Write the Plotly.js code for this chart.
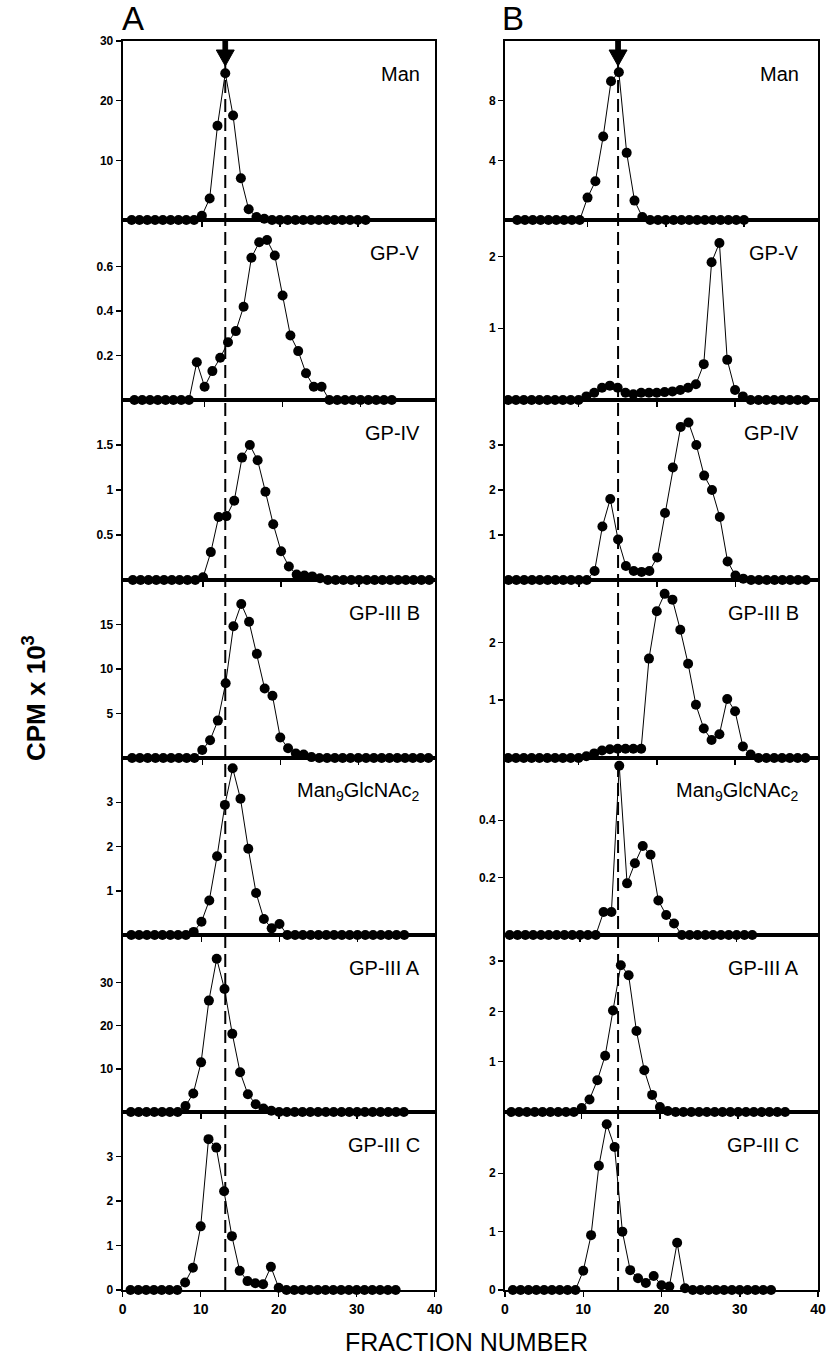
<!DOCTYPE html>
<html><head><meta charset="utf-8">
<script src="https://cdn.plot.ly/plotly-3.0.1.min.js"></script>
<style>html,body{margin:0;padding:0;background:#fff}#chart{width:830px;height:1361px}</style>
</head><body><div id="chart"></div>
<script>
// ---------------- DATA ----------------
const panelLabels = ['Man', 'GP-V', 'GP-IV', 'GP-III B', 'Man<sub>9</sub>GlcNAc<sub>2</sub>', 'GP-III A', 'GP-III C'];
const xTickLabels = [0, 10, 20, 30, 40];

// first fraction number of every series
const startA = [1, 1, 1, 1, 1, 1, 1];
const startB = [1, 1, 1, 1, 1, 1, 1];

// Column A (CPM x 10^3)
const A_Man    = [0,0,0,0,0,0,0,0,0, 0.7,3.6,15.8,24.6,17.5,7.0,1.8,0.5,0.2, 0,0,0,0,0,0,0,0,0,0,0,0,0];
const A_GPV    = [0,0,0,0,0,0,0,0, 0.17,0.06,0.13,0.19,0.26,0.31,0.42,0.64,0.71,0.72,0.65,0.47,0.29,0.22,0.12,0.06,0.06, 0,0,0,0,0,0,0,0,0];
const A_GPIV   = [0,0,0,0,0,0,0,0,0, 0.03,0.31,0.70,0.71,0.88,1.36,1.50,1.33,0.98,0.62,0.32,0.15,0.06,0.05,0.04,0.02, 0,0,0,0,0,0,0,0,0,0,0,0,0,0];
const A_GPIIIB = [0,0,0,0,0,0,0,0,0, 0.9,2.0,4.2,8.4,14.8,17.3,15.3,11.7,7.8,7.0,2.3,1.1,0.5,0.4,0.1, 0,0,0,0,0,0,0,0,0,0,0,0,0,0,0];
const A_Man9   = [0,0,0,0,0,0,0,0, 0.07,0.30,0.78,1.78,2.94,3.77,3.08,1.95,0.95,0.36,0.15,0.25, 0,0,0,0,0,0,0,0,0,0,0,0,0,0,0,0];
const A_GPIIIA = [0,0,0,0,0,0,0, 1.4,4.3,11.5,25.8,35.5,28.5,18.1,9.2,4.1,1.8,0.8,0.3, 0,0,0,0,0,0,0,0,0,0,0,0,0,0,0,0,0];
const A_GPIIIC = [0,0,0,0,0,0,0, 0.17,0.50,1.43,3.39,3.20,2.22,1.21,0.43,0.20,0.15,0.13,0.52,0.05, 0,0,0,0,0,0,0,0,0,0,0,0,0,0,0];

// Column B (CPM x 10^3)
const B_Man    = [0,0,0,0,0,0,0,0,0, 1.5,2.6,5.6,9.3,9.9,4.5,1.3,0.2, 0,0,0,0,0,0,0,0,0,0,0,0,0];
const B_GPV    = [0,0,0,0,0,0,0,0,0,0, 0.05,0.1,0.17,0.2,0.17,0.1,0.08,0.1,0.1,0.1,0.11,0.12,0.14,0.17,0.22,0.5,1.92,2.19,0.56,0.14,0.05, 0,0,0,0,0,0,0,0];
const B_GPIV   = [0,0,0,0,0,0,0,0,0,0,0, 0.2,1.19,1.8,0.9,0.31,0.2,0.18,0.2,0.5,1.49,2.5,3.4,3.5,3.0,2.32,2.0,1.4,0.41,0.1,0.03, 0,0,0,0,0,0,0,0];
const B_GPIIIB = [0,0,0,0,0,0,0,0,0,0, 0.03,0.08,0.13,0.15,0.16,0.16,0.16,0.16,1.72,2.54,2.84,2.74,2.22,1.63,0.92,0.51,0.31,0.41,1.02,0.81,0.2,0.06, 0,0,0,0,0,0,0];
const B_Man9   = [0,0,0,0,0,0,0,0,0,0,0,0, 0.08,0.08,0.59,0.18,0.25,0.31,0.28,0.12,0.07,0.04, 0,0,0,0,0,0,0,0,0,0];
const B_GPIIIA = [0,0,0,0,0,0,0,0,0, 0.08,0.25,0.63,1.12,2.02,2.92,2.72,1.61,0.83,0.34,0.1,0.02, 0,0,0,0,0,0,0,0,0,0,0,0,0,0,0];
const B_GPIIIC = [0,0,0,0,0,0,0,0,0, 0.33,0.94,2.13,2.84,2.45,1.0,0.34,0.2,0.12,0.24,0.08,0.06,0.81,0.03, 0,0,0,0,0,0,0,0,0,0,0];

// y-axis tick values
const yTicksA = [[10,20,30],[0.2,0.4,0.6],[0.5,1,1.5],[5,10,15],[1,2,3],[10,20,30],[0,1,2,3]];
const yTicksB = [[4,8],[1,2],[1,2,3],[1,2],[0.2,0.4],[1,2,3],[0,1,2]];

// marker fraction (arrow + dashed line)
const markerFractionA = 13.15;
const markerFractionB = 14.45;

// ---------------- LAYOUT / STYLE ----------------
const W = 830, H = 1361;
const seriesA = [A_Man, A_GPV, A_GPIV, A_GPIIIB, A_Man9, A_GPIIIA, A_GPIIIC];
const seriesB = [B_Man, B_GPV, B_GPIV, B_GPIIIB, B_Man9, B_GPIIIA, B_GPIIIC];
const yTopA = [30, 0.81, 2.0, 20, 4.0, 41, 4.0];
const yTopB = [12, 2.51, 4.0, 3.08, 0.617, 3.52, 3.05];
// horizontal placement shift of each pasted panel (fraction units)
const shiftA = [0.15, 0.5, 0.3, 0.2, 0.1, 0.05, 0];
const shiftB = [0.55, -0.6, -0.55, -0.6, -0.4, -0.2, 0];
const bounds = [41, 220, 400, 580, 758, 935, 1112, 1290];
const colPx = [[122.7, 434.7], [505, 818]];

const py = p => 1 - p / H;
const pxp = p => p / W;

const traces = [];
const layout = {
  width: W, height: H,
  margin: {l: 0, r: 0, t: 0, b: 0},
  paper_bgcolor: '#fff', plot_bgcolor: 'rgba(0,0,0,0)',
  showlegend: false,
  font: {family: 'Liberation Sans, Arial, sans-serif', color: '#000'},
  annotations: [], shapes: []
};

function fractions(start, n) { const a = []; for (let i = 0; i < n; i++) a.push(start + i); return a; }

const cols = [
  {series: seriesA, starts: startA, tops: yTopA, shifts: shiftA, ticks: yTicksA},
  {series: seriesB, starts: startB, tops: yTopB, shifts: shiftB, ticks: yTicksB}
];

cols.forEach((c, ci) => {
  for (let r = 0; r < 7; r++) {
    const k = ci * 7 + r + 1;
    const xn = k === 1 ? 'x' : 'x' + k;
    const yn = k === 1 ? 'y' : 'y' + k;
    const vals = c.series[r];
    traces.push({
      type: 'scatter', mode: 'lines+markers',
      x: fractions(c.starts[r], vals.length), y: vals,
      xaxis: xn, yaxis: yn,
      line: {color: '#000', width: 1},
      marker: {color: '#000', size: 10},
      cliponaxis: false, hoverinfo: 'skip'
    });
    const last = r === 6;
    layout['xaxis' + (k === 1 ? '' : k)] = {
      domain: [pxp(colPx[ci][0]), pxp(colPx[ci][1])],
      range: [-c.shifts[r], 40 - c.shifts[r]],
      anchor: yn,
      showline: true, mirror: true, linecolor: '#000', linewidth: 2,
      showgrid: false, zeroline: false,
      ticks: 'outside', ticklen: 5, tickwidth: 1.5, tickcolor: '#000',
      tickmode: 'array',
      tickvals: last ? xTickLabels : [10, 20, 30],
      showticklabels: last,
      tickfont: {size: 14, weight: 'bold', family: 'Liberation Sans, Arial, sans-serif'}
    };
    layout['yaxis' + (k === 1 ? '' : k)] = {
      domain: [py(bounds[r + 1]), py(bounds[r])],
      range: [0, c.tops[r]],
      anchor: xn,
      showline: true, mirror: true, linecolor: '#000', linewidth: 2,
      showgrid: false, zeroline: false,
      ticks: 'outside', ticklen: 5, tickwidth: 1.5, tickcolor: '#000',
      tickmode: 'array', tickvals: c.ticks[r],
      tickfont: {size: 12, weight: 'bold', family: 'Liberation Sans, Arial, sans-serif'}
    };
    layout.annotations.push({
      xref: 'paper', yref: 'paper',
      x: pxp(colPx[ci][1] - (ci === 0 ? 13 : 17)), y: py(bounds[r] + 33),
      xanchor: 'right', yanchor: 'middle', showarrow: false,
      text: panelLabels[r],
      font: {size: 20, family: 'Liberation Sans, Arial, sans-serif'}
    });
  }
});

// dashed reference lines and arrows
[[markerFractionA, 'x7'], [markerFractionB, 'x14']].forEach(([xf, xr]) => {
  layout.shapes.push({
    type: 'line', xref: xr, yref: 'paper',
    x0: xf, x1: xf, y0: py(bounds[7]), y1: py(64),
    line: {color: '#000', width: 2, dash: '13px,6px'}, layer: 'above'
  });
  const s = 0.3, h = 1.15;
  layout.shapes.push({
    type: 'path', xref: xr, yref: 'paper',
    path: `M ${xf - s},${py(41)} L ${xf + s},${py(41)} L ${xf + s},${py(50)} L ${xf + h},${py(50)} L ${xf},${py(66)} L ${xf - h},${py(50)} L ${xf - s},${py(50)} Z`,
    fillcolor: '#000', line: {color: '#000', width: 1}, layer: 'above'
  });
});

// column letters and axis titles
layout.annotations.push(
  {xref: 'paper', yref: 'paper', x: pxp(120), y: py(39), xanchor: 'left', yanchor: 'bottom',
   showarrow: false, text: 'A', font: {size: 33}},
  {xref: 'paper', yref: 'paper', x: pxp(500), y: py(39), xanchor: 'left', yanchor: 'bottom',
   showarrow: false, text: 'B', font: {size: 33}},
  {xref: 'paper', yref: 'paper', x: pxp(34), y: py(698), xanchor: 'center', yanchor: 'middle',
   showarrow: false, textangle: -90, text: 'CPM x 10<sup>3</sup>',
   font: {size: 26, weight: 'bold'}},
  {xref: 'paper', yref: 'paper', x: pxp(466), y: py(1342), xanchor: 'center', yanchor: 'middle',
   showarrow: false, text: 'FRACTION NUMBER', font: {size: 25}}
);

Plotly.newPlot('chart', traces, layout, {staticPlot: true, displayModeBar: false});
</script>
</body></html>
